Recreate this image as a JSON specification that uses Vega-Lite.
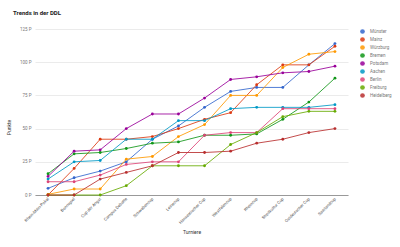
{
  "$schema": "https://vega.github.io/schema/vega-lite/v6.json",
  "width": 313,
  "height": 166,
  "autosize": {"type": "none"},
  "padding": {"left": 35, "top": 29, "right": 52, "bottom": 52},
  "background": "white",
  "title": {
    "text": "Trends in der DDL",
    "anchor": "start",
    "frame": "group",
    "dx": -22,
    "offset": 10,
    "font": "Roboto",
    "fontSize": 6,
    "fontWeight": "bold",
    "color": "#222222"
  },
  "config": {
    "view": {"stroke": null},
    "font": "Roboto"
  },
  "data": {
    "values": [
      {"Turnier": "Rhein-Main-Pokal", "Team": "Münster", "Punkte": 5},
      {"Turnier": "Bonnspiel", "Team": "Münster", "Punkte": 13},
      {"Turnier": "Cup der Angst", "Team": "Münster", "Punkte": 18},
      {"Turnier": "Campus Debatte", "Team": "Münster", "Punkte": 25},
      {"Turnier": "Schwabencup", "Team": "Münster", "Punkte": 42},
      {"Turnier": "Leinecup", "Team": "Münster", "Punkte": 52},
      {"Turnier": "Hanseatischer Cup", "Team": "Münster", "Punkte": 66},
      {"Turnier": "Westfalencup", "Team": "Münster", "Punkte": 78},
      {"Turnier": "Rheincup", "Team": "Münster", "Punkte": 81},
      {"Turnier": "Streitkultur Cup", "Team": "Münster", "Punkte": 81},
      {"Turnier": "Ostdeutscher Cup", "Team": "Münster", "Punkte": 98},
      {"Turnier": "Saarlandcup", "Team": "Münster", "Punkte": 114},

      {"Turnier": "Rhein-Main-Pokal", "Team": "Mainz", "Punkte": 0},
      {"Turnier": "Bonnspiel", "Team": "Mainz", "Punkte": 20},
      {"Turnier": "Cup der Angst", "Team": "Mainz", "Punkte": 42},
      {"Turnier": "Campus Debatte", "Team": "Mainz", "Punkte": 42},
      {"Turnier": "Schwabencup", "Team": "Mainz", "Punkte": 44},
      {"Turnier": "Leinecup", "Team": "Mainz", "Punkte": 50},
      {"Turnier": "Hanseatischer Cup", "Team": "Mainz", "Punkte": 57},
      {"Turnier": "Westfalencup", "Team": "Mainz", "Punkte": 62},
      {"Turnier": "Rheincup", "Team": "Mainz", "Punkte": 83},
      {"Turnier": "Streitkultur Cup", "Team": "Mainz", "Punkte": 98},
      {"Turnier": "Ostdeutscher Cup", "Team": "Mainz", "Punkte": 98},
      {"Turnier": "Saarlandcup", "Team": "Mainz", "Punkte": 112},

      {"Turnier": "Rhein-Main-Pokal", "Team": "Würzburg", "Punkte": 0.5},
      {"Turnier": "Bonnspiel", "Team": "Würzburg", "Punkte": 4.5},
      {"Turnier": "Cup der Angst", "Team": "Würzburg", "Punkte": 4.5},
      {"Turnier": "Campus Debatte", "Team": "Würzburg", "Punkte": 27},
      {"Turnier": "Schwabencup", "Team": "Würzburg", "Punkte": 29},
      {"Turnier": "Leinecup", "Team": "Würzburg", "Punkte": 44},
      {"Turnier": "Hanseatischer Cup", "Team": "Würzburg", "Punkte": 53},
      {"Turnier": "Westfalencup", "Team": "Würzburg", "Punkte": 75},
      {"Turnier": "Rheincup", "Team": "Würzburg", "Punkte": 75},
      {"Turnier": "Streitkultur Cup", "Team": "Würzburg", "Punkte": 96},
      {"Turnier": "Ostdeutscher Cup", "Team": "Würzburg", "Punkte": 106},
      {"Turnier": "Saarlandcup", "Team": "Würzburg", "Punkte": 108},

      {"Turnier": "Rhein-Main-Pokal", "Team": "Bremen", "Punkte": 16},
      {"Turnier": "Bonnspiel", "Team": "Bremen", "Punkte": 31},
      {"Turnier": "Cup der Angst", "Team": "Bremen", "Punkte": 32},
      {"Turnier": "Campus Debatte", "Team": "Bremen", "Punkte": 35},
      {"Turnier": "Schwabencup", "Team": "Bremen", "Punkte": 39},
      {"Turnier": "Leinecup", "Team": "Bremen", "Punkte": 40},
      {"Turnier": "Hanseatischer Cup", "Team": "Bremen", "Punkte": 45},
      {"Turnier": "Westfalencup", "Team": "Bremen", "Punkte": 45},
      {"Turnier": "Rheincup", "Team": "Bremen", "Punkte": 46},
      {"Turnier": "Streitkultur Cup", "Team": "Bremen", "Punkte": 57},
      {"Turnier": "Ostdeutscher Cup", "Team": "Bremen", "Punkte": 70},
      {"Turnier": "Saarlandcup", "Team": "Bremen", "Punkte": 88},

      {"Turnier": "Rhein-Main-Pokal", "Team": "Potsdam", "Punkte": 14},
      {"Turnier": "Bonnspiel", "Team": "Potsdam", "Punkte": 33},
      {"Turnier": "Cup der Angst", "Team": "Potsdam", "Punkte": 34},
      {"Turnier": "Campus Debatte", "Team": "Potsdam", "Punkte": 50},
      {"Turnier": "Schwabencup", "Team": "Potsdam", "Punkte": 61},
      {"Turnier": "Leinecup", "Team": "Potsdam", "Punkte": 61},
      {"Turnier": "Hanseatischer Cup", "Team": "Potsdam", "Punkte": 73},
      {"Turnier": "Westfalencup", "Team": "Potsdam", "Punkte": 87},
      {"Turnier": "Rheincup", "Team": "Potsdam", "Punkte": 89},
      {"Turnier": "Streitkultur Cup", "Team": "Potsdam", "Punkte": 92},
      {"Turnier": "Ostdeutscher Cup", "Team": "Potsdam", "Punkte": 93},
      {"Turnier": "Saarlandcup", "Team": "Potsdam", "Punkte": 97},

      {"Turnier": "Rhein-Main-Pokal", "Team": "Aachen", "Punkte": 12},
      {"Turnier": "Bonnspiel", "Team": "Aachen", "Punkte": 25},
      {"Turnier": "Cup der Angst", "Team": "Aachen", "Punkte": 26},
      {"Turnier": "Campus Debatte", "Team": "Aachen", "Punkte": 42},
      {"Turnier": "Schwabencup", "Team": "Aachen", "Punkte": 42},
      {"Turnier": "Leinecup", "Team": "Aachen", "Punkte": 56},
      {"Turnier": "Hanseatischer Cup", "Team": "Aachen", "Punkte": 56},
      {"Turnier": "Westfalencup", "Team": "Aachen", "Punkte": 65},
      {"Turnier": "Rheincup", "Team": "Aachen", "Punkte": 66},
      {"Turnier": "Streitkultur Cup", "Team": "Aachen", "Punkte": 66},
      {"Turnier": "Ostdeutscher Cup", "Team": "Aachen", "Punkte": 66},
      {"Turnier": "Saarlandcup", "Team": "Aachen", "Punkte": 68},

      {"Turnier": "Rhein-Main-Pokal", "Team": "Berlin", "Punkte": 10},
      {"Turnier": "Bonnspiel", "Team": "Berlin", "Punkte": 10},
      {"Turnier": "Cup der Angst", "Team": "Berlin", "Punkte": 15},
      {"Turnier": "Campus Debatte", "Team": "Berlin", "Punkte": 23},
      {"Turnier": "Schwabencup", "Team": "Berlin", "Punkte": 25},
      {"Turnier": "Leinecup", "Team": "Berlin", "Punkte": 25},
      {"Turnier": "Hanseatischer Cup", "Team": "Berlin", "Punkte": 45},
      {"Turnier": "Westfalencup", "Team": "Berlin", "Punkte": 47},
      {"Turnier": "Rheincup", "Team": "Berlin", "Punkte": 47},
      {"Turnier": "Streitkultur Cup", "Team": "Berlin", "Punkte": 65},
      {"Turnier": "Ostdeutscher Cup", "Team": "Berlin", "Punkte": 65},
      {"Turnier": "Saarlandcup", "Team": "Berlin", "Punkte": 65},

      {"Turnier": "Rhein-Main-Pokal", "Team": "Freiburg", "Punkte": 0},
      {"Turnier": "Bonnspiel", "Team": "Freiburg", "Punkte": 0},
      {"Turnier": "Cup der Angst", "Team": "Freiburg", "Punkte": 0},
      {"Turnier": "Campus Debatte", "Team": "Freiburg", "Punkte": 7},
      {"Turnier": "Schwabencup", "Team": "Freiburg", "Punkte": 22},
      {"Turnier": "Leinecup", "Team": "Freiburg", "Punkte": 22},
      {"Turnier": "Hanseatischer Cup", "Team": "Freiburg", "Punkte": 22},
      {"Turnier": "Westfalencup", "Team": "Freiburg", "Punkte": 38},
      {"Turnier": "Rheincup", "Team": "Freiburg", "Punkte": 47},
      {"Turnier": "Streitkultur Cup", "Team": "Freiburg", "Punkte": 59},
      {"Turnier": "Ostdeutscher Cup", "Team": "Freiburg", "Punkte": 63},
      {"Turnier": "Saarlandcup", "Team": "Freiburg", "Punkte": 63},

      {"Turnier": "Rhein-Main-Pokal", "Team": "Heidelberg", "Punkte": 0},
      {"Turnier": "Bonnspiel", "Team": "Heidelberg", "Punkte": 0},
      {"Turnier": "Cup der Angst", "Team": "Heidelberg", "Punkte": 12},
      {"Turnier": "Campus Debatte", "Team": "Heidelberg", "Punkte": 17},
      {"Turnier": "Schwabencup", "Team": "Heidelberg", "Punkte": 22},
      {"Turnier": "Leinecup", "Team": "Heidelberg", "Punkte": 32},
      {"Turnier": "Hanseatischer Cup", "Team": "Heidelberg", "Punkte": 32},
      {"Turnier": "Westfalencup", "Team": "Heidelberg", "Punkte": 33},
      {"Turnier": "Rheincup", "Team": "Heidelberg", "Punkte": 39},
      {"Turnier": "Streitkultur Cup", "Team": "Heidelberg", "Punkte": 42},
      {"Turnier": "Ostdeutscher Cup", "Team": "Heidelberg", "Punkte": 47},
      {"Turnier": "Saarlandcup", "Team": "Heidelberg", "Punkte": 50}
    ]
  },
  "mark": {
    "type": "line",
    "strokeWidth": 1,
    "opacity": 0.85,
    "point": {"filled": true, "size": 8, "opacity": 1}
  },
  "encoding": {
    "x": {
      "field": "Turnier",
      "type": "nominal",
      "sort": null,
      "scale": {"type": "point", "padding": 0.5},
      "axis": {
        "title": "Turniere",
        "titleFontSize": 5,
        "titleFontWeight": "normal",
        "titleColor": "#333333",
        "titlePadding": 5,
        "labelAngle": -45,
        "labelAlign": "right",
        "labelBaseline": "middle",
        "labelFontSize": 4.2,
        "labelColor": "#555555",
        "labelPadding": 3,
        "ticks": false,
        "grid": false,
        "domainColor": "#999999",
        "domainWidth": 1
      }
    },
    "y": {
      "field": "Punkte",
      "type": "quantitative",
      "scale": {"domain": [0, 125], "nice": false},
      "axis": {
        "title": "Punkte",
        "titleFontSize": 5,
        "titleFontWeight": "normal",
        "titleColor": "#333333",
        "titleY": 98,
        "titlePadding": 8,
        "values": [0, 25, 50, 75, 100, 125],
        "labelExpr": "datum.value + ' P'",
        "labelFontSize": 4.5,
        "labelColor": "#777777",
        "labelPadding": 4,
        "ticks": false,
        "domain": false,
        "gridColor": "#ebebeb",
        "gridWidth": 1
      }
    },
    "color": {
      "field": "Team",
      "type": "nominal",
      "scale": {
        "domain": ["Münster", "Mainz", "Würzburg", "Bremen", "Potsdam", "Aachen", "Berlin", "Freiburg", "Heidelberg"],
        "range": ["#3366cc", "#dc3912", "#ff9900", "#109618", "#990099", "#0099c6", "#dd4477", "#66aa00", "#b82e2e"]
      },
      "legend": {
        "title": null,
        "orient": "right",
        "offset": 12,
        "symbolType": "circle",
        "symbolSize": 22,
        "symbolStrokeWidth": 0,
        "labelFontSize": 4.5,
        "labelColor": "#777777",
        "labelOffset": 5,
        "rowPadding": 2
      }
    }
  }
}
